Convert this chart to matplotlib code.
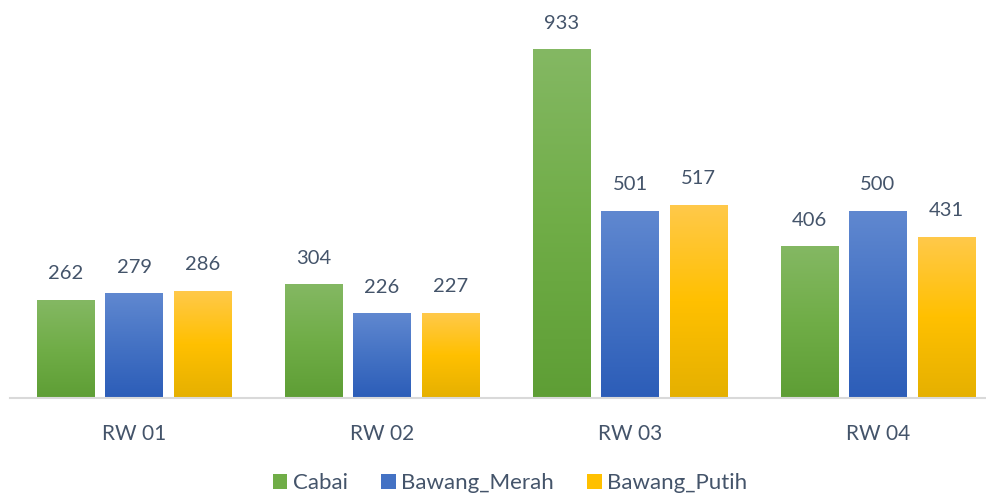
import numpy as np
import matplotlib.pyplot as plt
from matplotlib.colors import LinearSegmentedColormap
from matplotlib.patches import Patch

plt.rcParams['font.family'] = ['Lato', 'DejaVu Sans']

categories = ['RW 01', 'RW 02', 'RW 03', 'RW 04']
series = ['Cabai', 'Bawang_Merah', 'Bawang_Putih']
cabai = [262, 304, 933, 406]
bawang_merah = [279, 226, 501, 500]
bawang_putih = [286, 227, 517, 431]
values = [cabai, bawang_merah, bawang_putih]

# gradient colours (top, middle, bottom) like the Excel fill
grads = [
    ['#84B863', '#70AD47', '#5E9E35'],
    ['#6088D0', '#4472C4', '#2C5DB8'],
    ['#FFC94A', '#FFC000', '#E5B000'],
]
txt_color = '#44546A'

fig = plt.figure(figsize=(9.86, 4.94), dpi=100)
W, H = 986, 494
ax = fig.add_axes([10 / W, 96 / H, 976 / W, 373 / H])

bar_w = 0.23
step = 0.276
x = np.arange(len(categories))

grad = np.linspace(1, 0, 256).reshape(-1, 1)
for i, (vals, cols) in enumerate(zip(values, grads)):
    cmap = LinearSegmentedColormap.from_list(series[i], cols[::-1])
    for xi, v in zip(x, vals):
        cx = xi + (i - 1) * step
        ax.imshow(grad, cmap=cmap, extent=[cx - bar_w / 2, cx + bar_w / 2, 0, v],
                  aspect='auto', vmin=0, vmax=1, zorder=2)
        ax.annotate(str(v), (cx, v), xytext=(0, 13), textcoords='offset points',
                    ha='center', va='bottom', fontsize=14.5, color=txt_color)

ax.set_xlim(-0.5, -0.5 + 976 / 248)
ax.set_ylim(0, 1000)
for s in ['top', 'right', 'left']:
    ax.spines[s].set_visible(False)
ax.spines['bottom'].set_color('#D9D9D9')
ax.spines['bottom'].set_linewidth(1.5)
ax.set_yticks([])
ax.set_xticks(x)
ax.set_xticklabels(categories, fontsize=15, color=txt_color)
ax.tick_params(axis='x', length=0, pad=19)

handles = [Patch(facecolor=c[1], edgecolor='none') for c in grads]
fig.legend(handles, series, loc='center', bbox_to_anchor=(510 / W, 1 - 483 / H),
           ncol=3, frameon=False, fontsize=16, handlelength=0.65, handleheight=0.65,
           handletextpad=0.25, columnspacing=1.5, labelcolor=txt_color)

fig.savefig('out.png', dpi=100)
